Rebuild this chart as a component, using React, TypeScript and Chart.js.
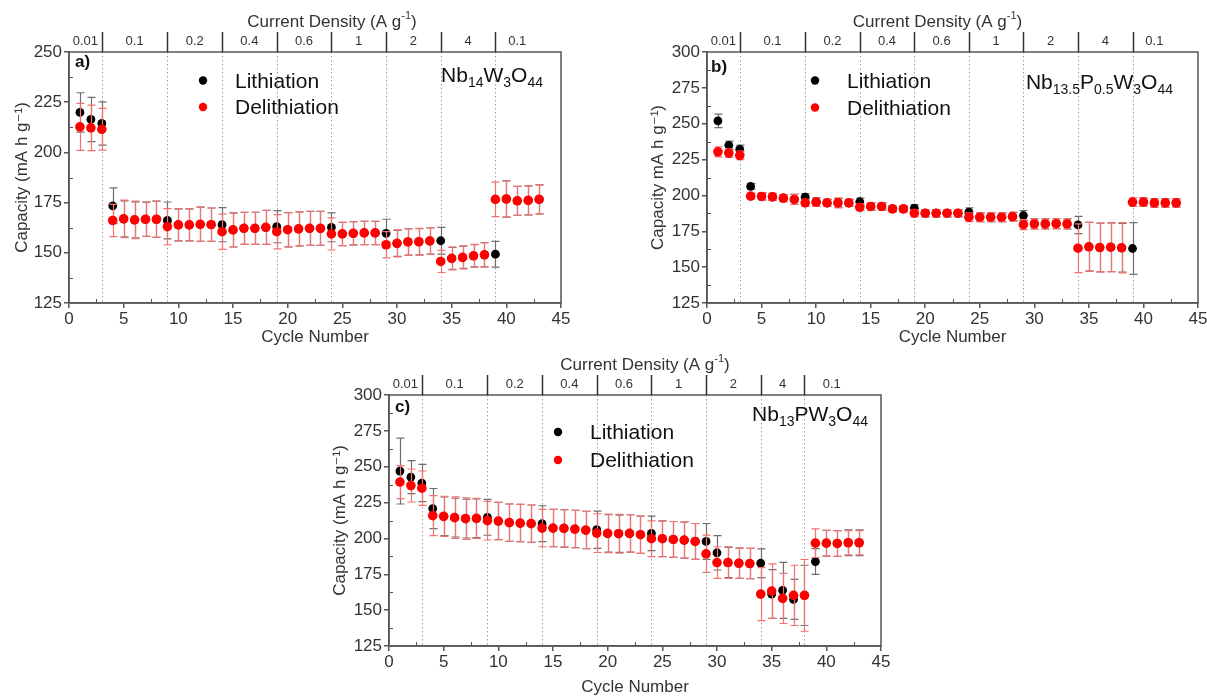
import React, { useEffect, useRef } from "react";
import { Chart, registerables } from "chart.js";

Chart.register(...registerables);

const FONT = '"Liberation Sans", Arial, "DejaVu Sans", sans-serif';

// ---------- data ----------
const cycles = [1, 2, 3, 4, 5, 6, 7, 8, 9, 10, 11, 12, 13, 14, 15, 16, 17, 18, 19, 20, 21, 22, 23, 24, 25, 26, 27, 28, 29, 30, 31, 32, 33, 34, 35, 36, 37, 38, 39, 40, 41, 42, 43];

const rateLabels = ["0.01", "0.1", "0.2", "0.4", "0.6", "1", "2", "4", "0.1"];
const boundariesAB = [3, 9, 14, 19, 24, 29, 34, 39];
const boundariesC = [3, 9, 14, 19, 24, 29, 34, 38];
const lastCycle = 43;

const xTicks = { min: 0, max: 45, step: 5 };

// Panel a) Nb14W3O44
const aLith = [219.9, 216.4, 214.4, 173.4, 166.9, 166.4, 166.7, 166.7, 166.1, 163.9, 163.9, 164.2, 164.0, 164.0, 161.4, 162.2, 162.2, 162.7, 163.0, 161.5, 161.9, 162.2, 162.2, 162.7, 159.4, 159.7, 159.9, 159.9, 159.7, 154.7, 155.4, 155.5, 155.9, 156.0, 147.2, 147.7, 148.5, 149.0, 149.3, 176.8, 175.9, 176.1, 176.6];
const aLithErr = [9.8, 11, 10.8, 8.9, 9, 9, 8.5, 9, 9.2, 8, 8, 8.5, 8.3, 8.5, 8.5, 8, 8, 8.5, 8, 8.5, 8.5, 8.5, 8.5, 7.2, 5.8, 5.8, 5.8, 5.8, 7, 6.5, 6.5, 6.5, 6.5, 6.7, 5.5, 5.5, 5.5, 6, 6.4, 9, 7.2, 7.2, 7.2];
const aDelith = [212.7, 212.2, 211.5, 166.1, 166.9, 166.4, 166.7, 166.7, 163.0, 163.9, 163.9, 164.2, 164.0, 160.5, 161.4, 162.2, 162.2, 162.7, 160.5, 161.5, 161.9, 162.2, 162.2, 159.4, 159.4, 159.7, 159.9, 159.9, 154.0, 154.7, 155.4, 155.5, 155.9, 145.7, 147.2, 147.7, 148.5, 149.0, 176.6, 176.8, 175.9, 176.1, 176.6];
const aDelithErr = [11.7, 11.3, 10.4, 8, 9.4, 9.4, 8.5, 9, 9, 8, 8, 8.5, 8.3, 8.8, 8.5, 8, 8, 8.5, 8.5, 8.5, 8.5, 8.5, 8.5, 8, 5.8, 5.8, 5.8, 5.8, 6.5, 6.7, 6.7, 6.7, 6.7, 5.5, 5.7, 5.7, 5.7, 6, 8.6, 9, 7.2, 7.2, 7.2];

// Panel b) Nb13.5P0.5W3O44
const bLith = [252.0, 234.9, 232.1, 206.3, 199.3, 199.0, 198.1, 197.2, 198.8, 195.3, 194.8, 194.8, 194.8, 195.6, 192.3, 192.3, 190.6, 190.6, 191.1, 187.6, 187.6, 187.6, 187.6, 188.3, 184.8, 184.8, 184.8, 185.2, 186.0, 180.1, 180.1, 180.3, 180.1, 179.4, 164.2, 163.7, 163.9, 163.5, 163.0, 195.3, 194.8, 194.8, 194.8];
const bLithErr = [4.7, 3, 3, 2, 2.5, 2.5, 2.5, 3.5, 2.5, 3, 2.5, 3, 2.5, 2.5, 2.5, 2.5, 2, 2, 2.5, 2.5, 2.5, 2.5, 2.5, 3, 3, 3, 3, 3, 3.5, 3.5, 3.5, 3.5, 3.5, 6, 17, 17, 17, 17, 18, 3, 3, 3, 3];
const bDelith = [230.4, 229.5, 227.9, 199.5, 199.3, 199.0, 198.1, 197.2, 194.8, 195.3, 194.8, 194.8, 194.8, 191.8, 192.3, 192.3, 190.6, 190.6, 187.6, 187.6, 187.6, 187.6, 187.6, 184.8, 184.8, 184.8, 184.8, 185.2, 179.6, 180.1, 180.1, 180.3, 180.1, 163.2, 164.2, 163.7, 163.9, 163.5, 195.3, 195.3, 194.8, 194.8, 194.8];
const bDelithErr = [3.5, 3, 3, 2, 2.5, 2.5, 2.5, 3.5, 2.5, 3, 2.5, 3.5, 2.5, 2.5, 2.5, 2.5, 2, 2, 2.5, 2.5, 2.5, 2.5, 2.5, 3, 3, 3, 3, 3, 3.5, 3.5, 3.5, 3.5, 3.5, 17, 17, 17, 17, 17.5, 3, 3, 3, 3, 3];

// Panel c) Nb13PW3O44
const cLith = [247.0, 242.8, 238.6, 220.8, 215.4, 214.5, 213.8, 214.0, 214.7, 212.1, 211.0, 210.7, 210.3, 210.3, 207.2, 207.0, 206.5, 205.8, 206.1, 203.5, 203.3, 203.5, 202.6, 203.5, 199.8, 199.3, 198.8, 197.9, 197.9, 190.0, 183.2, 182.7, 182.5, 182.7, 161.2, 163.8, 157.5, 160.3, 183.9, 196.7, 196.5, 197.0, 197.0];
const cLithErr = [23, 11.5, 13, 14, 13.5, 13.5, 13.5, 13.5, 12.5, 13, 13, 13, 13, 12.5, 13, 13, 13, 13, 13, 13, 13, 13, 13, 12, 12.5, 12.5, 12.5, 12.5, 12.5, 12, 10.5, 10.5, 10.5, 10, 17, 19.5, 14, 21, 9, 9, 9, 9, 9];
const cDelith = [239.3, 236.9, 235.0, 215.9, 215.4, 214.5, 213.8, 214.0, 212.4, 212.1, 211.0, 210.7, 210.3, 207.2, 207.2, 207.0, 206.5, 205.8, 203.7, 203.5, 203.3, 203.5, 202.6, 199.8, 199.8, 199.3, 198.8, 197.9, 189.3, 183.2, 183.2, 182.7, 182.5, 161.2, 163.3, 158.2, 160.3, 160.3, 196.7, 196.7, 196.5, 197.0, 197.0];
const cDelithErr = [11.5, 11.5, 12, 14, 14, 14.5, 14.5, 14, 13.5, 13, 13, 13, 13, 13, 13, 13, 13, 13, 13.5, 13.5, 13.5, 13, 13, 12.5, 12.5, 12.5, 12.5, 12.5, 13, 11, 11, 10.5, 10.5, 18.5, 19, 17.5, 21, 25, 10, 9, 9, 8.5, 8.5];

const seriesNames = ["Lithiation", "Delithiation"];
const seriesColors = ["#000000", "#ff0000"];
const errColors = ["#6e6e6e", "#f27272"];
const pointRadii = [4.4, 4.8];

type Part = { t: string; sub?: boolean };

interface PanelCfg {
  key: string;
  box: { left: number; top: number; width: number; height: number };
  padTop: number;
  padRight: number;
  yWidth: number;
  xHeight: number;
  yMin: number;
  yMax: number;
  yTitle: string;
  yTitlePad: number;
  xTitlePad: number;
  lith: number[];
  lithErr: number[];
  delith: number[];
  delithErr: number[];
  bounds: number[];
  tag: string;
  tagDx: number;
  tagDy: number;
  formula: Part[];
  formulaRight: number;
  formulaBase: number;
  legendDot: number;
  legendText: number;
  legendY1: number;
  legendY2: number;
  topTitleDx: number;
}

const panels: PanelCfg[] = [
  {
    key: "a",
    box: { left: 0, top: 0, width: 600, height: 350 },
    padTop: 52,
    padRight: 39,
    yWidth: 69,
    xHeight: 47,
    yMin: 125,
    yMax: 250,
    yTitle: "Capacity (mA h g\u207B\u00B9)",
    yTitlePad: 12,
    xTitlePad: 2,
    lith: aLith,
    lithErr: aLithErr,
    delith: aDelith,
    delithErr: aDelithErr,
    bounds: boundariesAB,
    tag: "a)",
    tagDx: 6,
    tagDy: 15,
    formula: [{ t: "Nb" }, { t: "14", sub: true }, { t: "W" }, { t: "3", sub: true }, { t: "O" }, { t: "44", sub: true }],
    formulaRight: 18,
    formulaBase: 30,
    legendDot: 134,
    legendText: 166,
    legendY1: 28.5,
    legendY2: 55,
    topTitleDx: 17,
  },
  {
    key: "b",
    box: { left: 630, top: 0, width: 577, height: 350 },
    padTop: 52,
    padRight: 9,
    yWidth: 77,
    xHeight: 47,
    yMin: 125,
    yMax: 300,
    yTitle: "Capacity mA h g\u207B\u00B9)",
    yTitlePad: 18,
    xTitlePad: 2,
    lith: bLith,
    lithErr: bLithErr,
    delith: bDelith,
    delithErr: bDelithErr,
    bounds: boundariesAB,
    tag: "b)",
    tagDx: 4,
    tagDy: 20,
    formula: [{ t: "Nb" }, { t: "13.5", sub: true }, { t: "P" }, { t: "0.5", sub: true }, { t: "W" }, { t: "3", sub: true }, { t: "O" }, { t: "44", sub: true }],
    formulaRight: 25,
    formulaBase: 37,
    legendDot: 108,
    legendText: 140,
    legendY1: 28.5,
    legendY2: 55.5,
    topTitleDx: -15,
  },
  {
    key: "c",
    box: { left: 320, top: 350, width: 590, height: 348 },
    padTop: 45,
    padRight: 29,
    yWidth: 69,
    xHeight: 52,
    yMin: 125,
    yMax: 300,
    yTitle: "Capacity (mA h g\u207B\u00B9)",
    yTitlePad: 10,
    xTitlePad: 0,
    lith: cLith,
    lithErr: cLithErr,
    delith: cDelith,
    delithErr: cDelithErr,
    bounds: boundariesC,
    tag: "c)",
    tagDx: 6,
    tagDy: 17,
    formula: [{ t: "Nb" }, { t: "13", sub: true }, { t: "PW" }, { t: "3", sub: true }, { t: "O" }, { t: "44", sub: true }],
    formulaRight: 13,
    formulaBase: 25.5,
    legendDot: 169,
    legendText: 201,
    legendY1: 37,
    legendY2: 65,
    topTitleDx: 10,
  },
];

function drawParts(ctx: CanvasRenderingContext2D, parts: { t: string; size: number; dy: number }[], x: number, y: number, align: "left" | "right" | "center") {
  let total = 0;
  const widths = parts.map((p) => {
    ctx.font = `${p.size}px ${FONT}`;
    const w = ctx.measureText(p.t).width;
    total += w;
    return w;
  });
  let cx = align === "left" ? x : align === "right" ? x - total : x - total / 2;
  ctx.textAlign = "left";
  parts.forEach((p, i) => {
    ctx.font = `${p.size}px ${FONT}`;
    ctx.fillText(p.t, cx, y + p.dy);
    cx += widths[i];
  });
}

function makeDecor(cfg: PanelCfg) {
  return {
    id: "decor" + cfg.key,
    beforeDatasetsDraw(chart: any) {
      const { ctx, chartArea: ca, scales } = chart;
      const xs = scales.x;
      ctx.save();
      ctx.strokeStyle = "#a0a0a0";
      ctx.lineWidth = 1;
      ctx.setLineDash([1.5, 2.5]);
      for (const b of cfg.bounds) {
        const px = Math.round(xs.getPixelForValue(b)) + 0.5;
        ctx.beginPath();
        ctx.moveTo(px, ca.top);
        ctx.lineTo(px, ca.bottom);
        ctx.stroke();
      }
      ctx.restore();
    },
    beforeDatasetDraw(chart: any, args: any) {
      const ds = chart.data.datasets[args.index];
      const { ctx, scales } = chart;
      const xs = scales.x;
      const ys = scales.y;
      ctx.save();
      ctx.strokeStyle = ds.errColor;
      ctx.lineWidth = 1.2;
      for (let i = 0; i < ds.data.length; i++) {
        const p = ds.data[i];
        const e = ds.errors[i];
        const x = Math.round(xs.getPixelForValue(p.x)) + 0.5;
        const y1 = ys.getPixelForValue(p.y + e);
        const y2 = ys.getPixelForValue(p.y - e);
        ctx.beginPath();
        ctx.moveTo(x, y1);
        ctx.lineTo(x, y2);
        ctx.moveTo(x - 4, y1);
        ctx.lineTo(x + 4, y1);
        ctx.moveTo(x - 4, y2);
        ctx.lineTo(x + 4, y2);
        ctx.stroke();
      }
      ctx.restore();
    },
    afterDraw(chart: any) {
      const { ctx, chartArea: ca, scales } = chart;
      const xs = scales.x;
      const ys = scales.y;
      ctx.save();
      // frame
      ctx.strokeStyle = "#555";
      ctx.lineWidth = 1.5;
      ctx.strokeRect(ca.left, ca.top, ca.right - ca.left, ca.bottom - ca.top);
      // minor ticks (inside)
      ctx.lineWidth = 1;
      for (let v = cfg.yMin + 12.5; v < cfg.yMax; v += 25) {
        const py = Math.round(ys.getPixelForValue(v)) + 0.5;
        ctx.beginPath();
        ctx.moveTo(ca.left, py);
        ctx.lineTo(ca.left + 4, py);
        ctx.stroke();
      }
      for (let v = xTicks.min + xTicks.step / 2; v < xTicks.max; v += xTicks.step) {
        const px = Math.round(xs.getPixelForValue(v)) + 0.5;
        ctx.beginPath();
        ctx.moveTo(px, ca.bottom);
        ctx.lineTo(px, ca.bottom - 4);
        ctx.stroke();
      }
      // top axis: rate segment ticks
      ctx.strokeStyle = "#333";
      ctx.lineWidth = 1.5;
      for (const b of cfg.bounds) {
        const px = Math.round(xs.getPixelForValue(b)) + 0.5;
        ctx.beginPath();
        ctx.moveTo(px, ca.top - 20);
        ctx.lineTo(px, ca.top);
        ctx.stroke();
      }
      ctx.fillStyle = "#333";
      ctx.font = `13px ${FONT}`;
      ctx.textAlign = "center";
      ctx.textBaseline = "middle";
      const edges = [0, ...cfg.bounds, lastCycle];
      rateLabels.forEach((lab, i) => {
        const mid = (edges[i] + edges[i + 1]) / 2;
        ctx.fillText(lab, xs.getPixelForValue(mid), ca.top - 11);
      });
      // top title
      ctx.textBaseline = "middle";
      drawParts(
        ctx,
        [
          { t: "Current Density (A g", size: 17, dy: 0 },
          { t: "-1", size: 11, dy: -6 },
          { t: ")", size: 17, dy: 0 },
        ],
        (ca.left + ca.right) / 2 + cfg.topTitleDx,
        ca.top - 30,
        "center"
      );
      // tag
      ctx.fillStyle = "#111";
      ctx.textBaseline = "alphabetic";
      ctx.textAlign = "left";
      ctx.font = `bold 17px ${FONT}`;
      ctx.fillText(cfg.tag, ca.left + cfg.tagDx, ca.top + cfg.tagDy);
      // legend
      const rows = [cfg.legendY1, cfg.legendY2];
      rows.forEach((dy, i) => {
        ctx.fillStyle = seriesColors[i];
        ctx.beginPath();
        ctx.arc(ca.left + cfg.legendDot, ca.top + dy, 4.2, 0, Math.PI * 2);
        ctx.fill();
        ctx.fillStyle = "#111";
        ctx.font = `21px ${FONT}`;
        ctx.textBaseline = "middle";
        ctx.textAlign = "left";
        ctx.fillText(seriesNames[i], ca.left + cfg.legendText, ca.top + dy + 1.5);
      });
      // formula
      ctx.fillStyle = "#111";
      ctx.textBaseline = "alphabetic";
      drawParts(
        ctx,
        cfg.formula.map((p) => ({ t: p.t, size: p.sub ? 14 : 21, dy: p.sub ? 5 : 0 })),
        ca.right - cfg.formulaRight,
        ca.top + cfg.formulaBase,
        "right"
      );
      ctx.restore();
    },
  };
}

function Panel({ cfg }: { cfg: PanelCfg }) {
  const ref = useRef<HTMLCanvasElement | null>(null);
  useEffect(() => {
    if (!ref.current) return;
    const tickFont = { size: 17, family: FONT };
    const chart = new Chart(ref.current, {
      type: "scatter",
      data: {
        datasets: [
          {
            label: seriesNames[0],
            data: cycles.map((c, i) => ({ x: c, y: cfg.lith[i] })),
            errors: cfg.lithErr,
            errColor: errColors[0],
            backgroundColor: seriesColors[0],
            borderColor: seriesColors[0],
            pointRadius: pointRadii[0],
            pointBorderWidth: 0,
            showLine: false,
            order: 2,
          } as any,
          {
            label: seriesNames[1],
            data: cycles.map((c, i) => ({ x: c, y: cfg.delith[i] })),
            errors: cfg.delithErr,
            errColor: errColors[1],
            backgroundColor: seriesColors[1],
            borderColor: seriesColors[1],
            pointRadius: pointRadii[1],
            pointBorderWidth: 0,
            showLine: false,
            order: 1,
          } as any,
        ],
      },
      options: {
        responsive: false,
        animation: false,
        devicePixelRatio: 1,
        layout: { padding: { top: cfg.padTop, right: cfg.padRight, left: 0, bottom: 0 } },
        plugins: { legend: { display: false }, tooltip: { enabled: false } },
        scales: {
          x: {
            type: "linear",
            min: xTicks.min,
            max: xTicks.max,
            ticks: { stepSize: xTicks.step, color: "#333", font: tickFont, padding: 1, maxRotation: 0, autoSkip: false },
            grid: { drawOnChartArea: false, drawTicks: true, tickLength: 5, color: "#555", lineWidth: 1.5 },
            border: { color: "#555", width: 1.5 },
            title: { display: true, text: "Cycle Number", color: "#333", font: tickFont, padding: { top: 0, bottom: cfg.xTitlePad } },
            afterFit: (s: any) => {
              s.height = cfg.xHeight;
              s.paddingLeft = 0;
              s.paddingRight = 0;
            },
          },
          y: {
            type: "linear",
            min: cfg.yMin,
            max: cfg.yMax,
            ticks: { stepSize: 25, color: "#333", font: tickFont, padding: 2 },
            grid: { drawOnChartArea: false, drawTicks: true, tickLength: 5, color: "#555", lineWidth: 1.5 },
            border: { color: "#555", width: 1.5 },
            title: { display: true, text: cfg.yTitle, color: "#333", font: tickFont, padding: { top: cfg.yTitlePad, bottom: 0 } },
            afterFit: (s: any) => {
              s.width = cfg.yWidth;
              s.paddingTop = 0;
              s.paddingBottom = 0;
            },
          },
        },
      } as any,
      plugins: [makeDecor(cfg)],
    });
    return () => chart.destroy();
  }, [cfg]);
  return (
    <canvas
      ref={ref}
      width={cfg.box.width}
      height={cfg.box.height}
      style={{ position: "absolute", left: cfg.box.left, top: cfg.box.top, width: cfg.box.width, height: cfg.box.height }}
    />
  );
}

export default function App() {
  return (
    <div style={{ position: "fixed", left: 0, top: 0, width: 1207, height: 698, background: "#fff", overflow: "hidden" }}>
      {panels.map((p) => (
        <Panel key={p.key} cfg={p} />
      ))}
    </div>
  );
}
